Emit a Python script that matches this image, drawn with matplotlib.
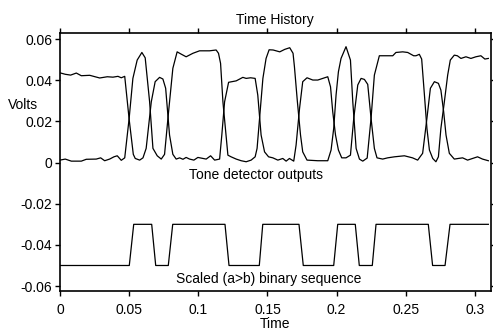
import numpy as np
import matplotlib
matplotlib.use('Agg')
import matplotlib.pyplot as plt

# Sortie du premier détecteur de ton (démarre haut)
t_a = [0.0, 0.0038, 0.0077, 0.0118, 0.0154, 0.0215, 0.0287, 0.0342, 0.0383, 0.0419, 0.0443, 0.0468,
       0.0500, 0.0530, 0.0544, 0.0576, 0.0600, 0.0623, 0.0660, 0.0688, 0.0720, 0.0744, 0.0764, 0.0792,
       0.0816, 0.0840, 0.0865, 0.0889, 0.0912, 0.0937, 0.0968, 0.0997, 0.1057, 0.1089, 0.1118, 0.1154,
       0.1170, 0.1190, 0.1219, 0.1274, 0.1322, 0.1346, 0.1378, 0.1411, 0.1430, 0.1454, 0.1479, 0.1508,
       0.1539, 0.1575, 0.1611, 0.1635, 0.1659, 0.1690, 0.1707, 0.1732, 0.1755, 0.1786, 0.1828, 0.1864,
       0.1900, 0.1936, 0.1956, 0.1972, 0.1992, 0.2013, 0.2037, 0.2068, 0.2100, 0.2124, 0.2153, 0.2177,
       0.2201, 0.2225, 0.2249, 0.2273, 0.2292, 0.2333, 0.2369, 0.2418, 0.2490, 0.2549, 0.2586, 0.2622,
       0.2653, 0.2678, 0.2707, 0.2736, 0.2754, 0.2774, 0.2791, 0.2815, 0.2851, 0.2880, 0.2911, 0.2947,
       0.2983, 0.3019, 0.3055, 0.3097]
v_a = [0.0436, 0.0429, 0.0425, 0.0435, 0.0422, 0.0424, 0.0411, 0.0417, 0.0415, 0.0419, 0.0412, 0.0419,
       0.0210, 0.0040, 0.0020, 0.0012, 0.0023, 0.0069, 0.0295, 0.0393, 0.0414, 0.0406, 0.0361, 0.0134,
       0.0040, 0.0017, 0.0023, 0.0016, 0.0025, 0.0017, 0.0012, 0.0025, 0.0017, 0.0033, 0.0012, 0.0017,
       0.0134, 0.0295, 0.0390, 0.0397, 0.0414, 0.0409, 0.0412, 0.0409, 0.0328, 0.0134, 0.0052, 0.0028,
       0.0023, 0.0012, 0.0020, 0.0007, 0.0020, 0.0007, 0.0085, 0.0263, 0.0393, 0.0412, 0.0401, 0.0401,
       0.0409, 0.0417, 0.0368, 0.0247, 0.0134, 0.0061, 0.0023, 0.0023, 0.0036, 0.0215, 0.0377, 0.0409,
       0.0404, 0.0380, 0.0215, 0.0069, 0.0023, 0.0017, 0.0023, 0.0028, 0.0033, 0.0023, 0.0012, 0.0045,
       0.0215, 0.0361, 0.0393, 0.0385, 0.0352, 0.0247, 0.0134, 0.0045, 0.0017, 0.0020, 0.0023, 0.0012,
       0.0020, 0.0028, 0.0017, 0.0009]

# Sortie du second détecteur (démarre bas)
t_b = [0.0, 0.0038, 0.0082, 0.0118, 0.0154, 0.0190, 0.0262, 0.0294, 0.0323, 0.0359, 0.0390, 0.0414,
       0.0443, 0.0468, 0.0500, 0.0527, 0.0558, 0.0592, 0.0616, 0.0648, 0.0672, 0.0703, 0.0732, 0.0756,
       0.0785, 0.0816, 0.0847, 0.0876, 0.0912, 0.0961, 0.1009, 0.1040, 0.1081, 0.1129, 0.1146, 0.1161,
       0.1178, 0.1214, 0.1237, 0.1274, 0.1310, 0.1346, 0.1382, 0.1411, 0.1425, 0.1443, 0.1467, 0.1490,
       0.1512, 0.1541, 0.1589, 0.1625, 0.1661, 0.1685, 0.1695, 0.1716, 0.1739, 0.1755, 0.1786, 0.1864,
       0.1936, 0.1960, 0.1979, 0.1996, 0.2013, 0.2032, 0.2068, 0.2100, 0.2117, 0.2141, 0.2165, 0.2189,
       0.2221, 0.2249, 0.2273, 0.2309, 0.2369, 0.2406, 0.2429, 0.2478, 0.2514, 0.2557, 0.2574, 0.2598,
       0.2615, 0.2635, 0.2653, 0.2671, 0.2695, 0.2718, 0.2736, 0.2754, 0.2779, 0.2803, 0.2822, 0.2851,
       0.2873, 0.2899, 0.2935, 0.2971, 0.3007, 0.3043, 0.3072, 0.3097]
v_b = [0.0012, 0.0017, 0.0007, 0.0007, 0.0007, 0.0016, 0.0017, 0.0023, 0.0009, 0.0017, 0.0028, 0.0033,
       0.0011, 0.0023, 0.0215, 0.0409, 0.0498, 0.0535, 0.0509, 0.0295, 0.0069, 0.0033, 0.0017, 0.0040,
       0.0247, 0.0458, 0.0538, 0.0527, 0.0514, 0.0531, 0.0543, 0.0543, 0.0543, 0.0547, 0.0531, 0.0482,
       0.0295, 0.0036, 0.0028, 0.0017, 0.0009, 0.0004, 0.0012, 0.0028, 0.0069, 0.0215, 0.0409, 0.0506,
       0.0548, 0.0547, 0.0538, 0.0550, 0.0558, 0.0531, 0.0466, 0.0299, 0.0134, 0.0052, 0.0012, 0.0009,
       0.0009, 0.0061, 0.0166, 0.0328, 0.0441, 0.0506, 0.0563, 0.0498, 0.0295, 0.0069, 0.0017, 0.0007,
       0.0022, 0.0215, 0.0425, 0.0519, 0.0519, 0.0519, 0.0535, 0.0538, 0.0535, 0.0519, 0.0519, 0.0526,
       0.0503, 0.0328, 0.0166, 0.0061, 0.0020, 0.0004, 0.0028, 0.0166, 0.0295, 0.0425, 0.0498, 0.0522,
       0.0519, 0.0506, 0.0514, 0.0506, 0.0514, 0.0519, 0.0503, 0.0506]

# Séquence binaire (a>b) mise à l'échelle
t_bin = [0.0, 0.0501, 0.0533, 0.0663, 0.0692, 0.0783, 0.0815, 0.1193, 0.1222, 0.1441, 0.1466, 0.1728,
         0.1759, 0.1979, 0.2008, 0.2135, 0.2164, 0.2258, 0.2285, 0.2663, 0.2694, 0.2784, 0.2820, 0.3097]
v_bin = [-0.05, -0.05, -0.03, -0.03, -0.05, -0.05, -0.03, -0.03, -0.05, -0.05, -0.03, -0.03,
         -0.05, -0.05, -0.03, -0.03, -0.05, -0.05, -0.03, -0.03, -0.05, -0.05, -0.03, -0.03]

x_ticks = [0, 0.05, 0.1, 0.15, 0.2, 0.25, 0.3]
x_labels = ['0', '0.05', '0.1', '0.15', '0.2', '0.25', '0.3']
y_ticks = [-0.06, -0.04, -0.02, 0, 0.02, 0.04, 0.06]
y_labels = ['-0.06', '-0.04', '-0.02', '0', '0.02', '0.04', '0.06']

plt.rcParams['font.family'] = ['Liberation Sans', 'DejaVu Sans']
plt.rcParams['font.size'] = 10

fig = plt.figure(figsize=(4.93, 3.31), dpi=100)
ax = fig.add_axes([0.1217, 0.1208, 0.9953 - 0.1217, 0.9012 - 0.1208])

ax.plot(t_a, v_a, color='black', lw=0.9)
ax.plot(t_b, v_b, color='black', lw=0.9)
ax.plot(t_bin, v_bin, color='black', lw=0.9)

ax.set_xlim(0, 0.3114)
ax.set_ylim(-0.0624, 0.0631)
ax.set_xticks(x_ticks)
ax.set_xticklabels(x_labels)
ax.set_yticks(y_ticks)
ax.set_yticklabels(y_labels)
ax.tick_params(direction='out', length=3.5, width=1, pad=2,
               top=True, right=True, colors='black')
ax.tick_params(axis='x', pad=5)
for s in ax.spines.values():
    s.set_linewidth(1.2)

ax.set_title('Time History', fontsize=10, pad=6)
ax.set_xlabel('Time', labelpad=0)
fig.text(8 / 493, 1 - 105 / 331, 'Volts', ha='left', va='center')

ax.text(0.1416, -0.0061, 'Tone detector outputs', ha='center', va='center')
ax.text(0.1506, -0.0566, 'Scaled (a>b) binary sequence', ha='center', va='center')

plt.savefig('out.png', dpi=100)
